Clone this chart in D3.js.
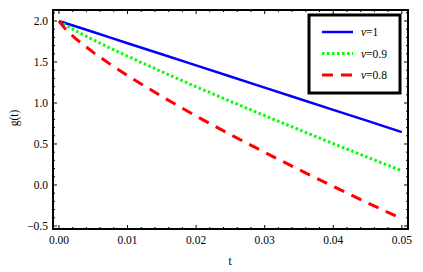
<!DOCTYPE html>
<html lang="en">
<head>
<meta charset="utf-8">
<title>g(t)</title>
<script src="https://d3js.org/d3.v7.min.js"></script>
<style>
  body { margin: 0; background: #fff; }
  text { font-family: "Liberation Serif", "Times New Roman", serif; }
</style>
</head>
<body>
<script>
var w = 423, h = 272;

// values
var tVals  = [0, 0.001, 0.0025, 0.005, 0.0075, 0.01, 0.015, 0.02, 0.025, 0.03, 0.035, 0.04, 0.045, 0.05];
var gNu1   = [2, 1.973, 1.932, 1.865, 1.797, 1.729, 1.594, 1.458, 1.323, 1.187, 1.052, 0.916, 0.781, 0.645];
var gNu09  = [2, 1.946, 1.877, 1.770, 1.668, 1.570, 1.381, 1.198, 1.020, 0.846, 0.674, 0.504, 0.338, 0.173];
var gNu08  = [2, 1.895, 1.780, 1.617, 1.471, 1.334, 1.079, 0.841, 0.614, 0.398, 0.187, -0.018, -0.218, -0.412];
var xTicks = [0, 0.01, 0.02, 0.03, 0.04, 0.05];
var yTicks = [-0.5, 0, 0.5, 1.0, 1.5, 2.0];
var seriesNames = ["\u03bd=1", "\u03bd=0.9", "\u03bd=0.8"];

var series = [
  { name: seriesNames[0], vals: gNu1,  color: "#0000ff", dash: null },
  { name: seriesNames[1], vals: gNu09, color: "#00ff00", dash: "2.5,2.5" },
  { name: seriesNames[2], vals: gNu08, color: "#ff0000", dash: "11,8" }
];

var plot = {left: 53, right: 408, top: 10, bottom: 229};

var x = d3.scaleLinear().domain([-0.00087, 0.0509]).range([plot.left, plot.right]);
var y = d3.scaleLinear().domain([-0.537, 2.134]).range([plot.bottom, plot.top]);

var svg = d3.select("body").append("svg")
  .attr("width", w).attr("height", h);

// curves
var line = d3.line()
  .x(function(d, i) { return x(tVals[i]); })
  .y(function(d) { return y(d); });

svg.append("defs").append("clipPath").attr("id", "clip")
  .append("rect")
  .attr("x", plot.left).attr("y", plot.top)
  .attr("width", plot.right - plot.left).attr("height", plot.bottom - plot.top);

svg.append("g").attr("clip-path", "url(#clip)")
  .selectAll("path.curve")
  .data(series)
  .enter().append("path")
  .attr("class", "curve")
  .attr("d", function(d) { return line(d.vals); })
  .attr("fill", "none")
  .attr("stroke", function(d) { return d.color; })
  .attr("stroke-width", function(d) { return d.dash ? 3 : 2.5; })
  .attr("stroke-dasharray", function(d) { return d.dash; });

// ticks on all four sides
var fmtX = d3.format(".2f");
var fmtY = function(v) { return d3.format(".1f")(v).replace("-", "\u2212"); };

var xMinor = d3.range(0, 0.0501, 0.002);
var yMinor = d3.range(-0.5, 2.101, 0.1);

var ticks = svg.append("g").attr("stroke", "#000").attr("stroke-width", 1);
xMinor.forEach(function(v) {
  var major = xTicks.some(function(t) { return Math.abs(t - v) < 1e-9; });
  var len = major ? 4 : 2;
  ticks.append("line").attr("x1", x(v)).attr("x2", x(v)).attr("y1", plot.bottom).attr("y2", plot.bottom - len);
  ticks.append("line").attr("x1", x(v)).attr("x2", x(v)).attr("y1", plot.top).attr("y2", plot.top + len);
});
yMinor.forEach(function(v) {
  var major = yTicks.some(function(t) { return Math.abs(t - v) < 1e-9; });
  var len = major ? 4 : 2;
  ticks.append("line").attr("y1", y(v)).attr("y2", y(v)).attr("x1", plot.left).attr("x2", plot.left + len);
  ticks.append("line").attr("y1", y(v)).attr("y2", y(v)).attr("x1", plot.right).attr("x2", plot.right - len);
});

// frame
svg.append("rect")
  .attr("x", plot.left).attr("y", plot.top)
  .attr("width", plot.right - plot.left).attr("height", plot.bottom - plot.top)
  .attr("fill", "none").attr("stroke", "#000").attr("stroke-width", 2);

// tick labels
svg.selectAll("text.xt").data(xTicks).enter().append("text")
  .attr("class", "xt")
  .attr("x", function(d) { return x(d); })
  .attr("y", 244)
  .attr("text-anchor", "middle")
  .style("font-size", "11.5px")
  .text(fmtX);

svg.selectAll("text.yt").data(yTicks).enter().append("text")
  .attr("class", "yt")
  .attr("x", 48)
  .attr("y", function(d) { return y(d); })
  .attr("dy", "0.35em")
  .attr("text-anchor", "end")
  .style("font-size", "11.5px")
  .text(fmtY);

// axis titles
svg.append("text")
  .attr("x", 230).attr("y", 265)
  .attr("text-anchor", "middle")
  .style("font-size", "11.5px")
  .text("t");

svg.append("text")
  .attr("transform", "translate(18,118)rotate(-90)")
  .attr("text-anchor", "middle")
  .style("font-size", "11.5px")
  .text("g(t)");

// legend
var legend = svg.append("g").attr("transform", "translate(309,15)");
legend.append("rect")
  .attr("x", 0).attr("y", 0).attr("width", 91).attr("height", 78)
  .attr("fill", "#fff").attr("stroke", "#000").attr("stroke-width", 3);

var item = legend.selectAll("g.item").data(series).enter().append("g")
  .attr("class", "item")
  .attr("transform", function(d, i) { return "translate(0," + (17 + i * 21.5) + ")"; });

item.append("line")
  .attr("x1", 13).attr("x2", 44).attr("y1", 0).attr("y2", 0)
  .attr("stroke", function(d) { return d.color; })
  .attr("stroke-width", function(d) { return d.dash ? 3 : 2.5; })
  .attr("stroke-dasharray", function(d) { return d.dash; });

var lt = item.append("text")
  .attr("x", 52).attr("y", 0).attr("dy", "0.35em")
  .style("font-size", "11.5px");
lt.append("tspan").style("font-style", "italic").text(function(d) { return d.name.charAt(0); });
lt.append("tspan").text(function(d) { return d.name.slice(1); });
</script>
</body>
</html>
